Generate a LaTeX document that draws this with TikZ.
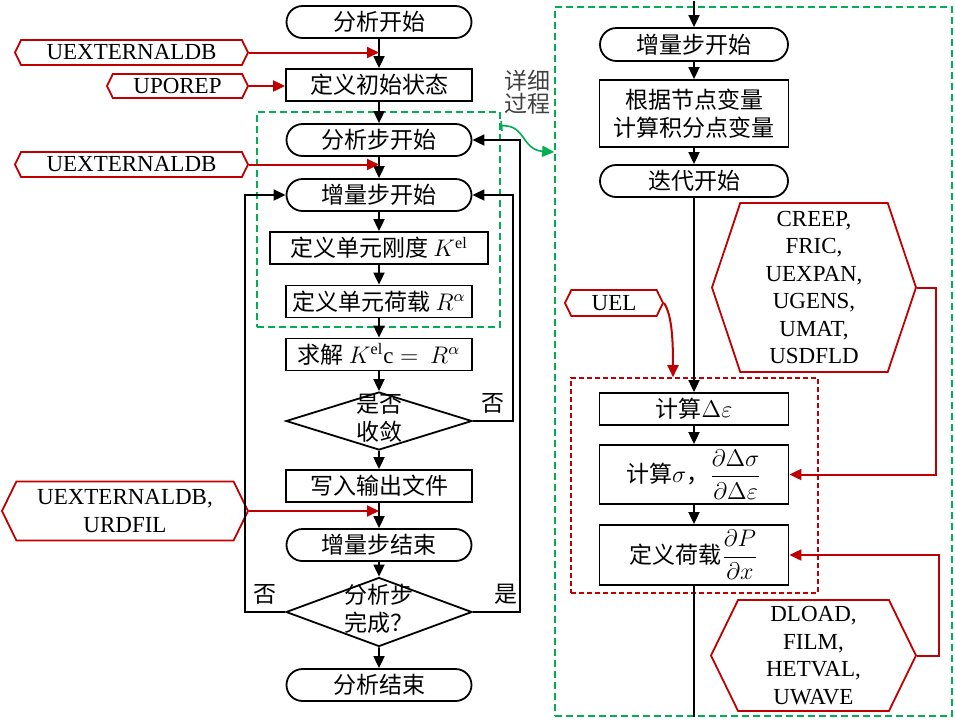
\documentclass[tikz,border=0pt]{standalone}
\usepackage{amsmath}
\usepackage{fontspec}
\setmainfont{Liberation Serif}
\newfontfamily\cjk{Noto Sans CJK SC}
\usepackage{tikz}
\usetikzlibrary{shapes.geometric,shapes.misc,shapes.symbols,arrows.meta,positioning}
\definecolor{dred}{RGB}{192,0,0}
\definecolor{dgreen}{RGB}{0,176,80}
\newcommand{\diatext}[2]{\smash{\raisebox{-2.9pt}{\begin{tabular}{@{}c@{}}#1\\#2\end{tabular}}}}

\begin{document}
\begin{tikzpicture}[x=0.5pt,y=-0.5pt,
    every node/.style={font=\fontsize{11.5}{13.75}\selectfont,inner sep=1.5pt},
    zh/.style={font=\fontsize{11.5}{13.75}\selectfont\cjk},
    term/.style={zh,draw,line width=0.9pt,rounded rectangle,minimum width=95.5pt,minimum height=16pt},
    proc/.style={zh,draw,line width=0.9pt,rectangle,align=center,minimum width=93pt,minimum height=16pt},
    dec/.style={zh,draw,line width=0.9pt,diamond,inner sep=0pt,minimum width=93pt,minimum height=29pt},
    hex/.style={draw=dred,line width=0.9pt,signal,signal to=west and east,signal pointer angle=128,align=center,inner sep=0.5pt},
    gbox/.style={draw=dgreen,line width=0.8pt,dash pattern=on 3.5pt off 2pt,inner sep=0pt},
    rbox/.style={draw=dred,line width=0.8pt,dash pattern=on 2.5pt off 1.5pt,inner sep=0pt},
    arr/.style={-{Triangle[length=6pt,width=5.5pt]},line width=0.9pt},
    rarr/.style={arr,draw=dred,line width=1pt}]
  \useasboundingbox (0,0) rectangle (955,725);
  \node[gbox,minimum width=121.5pt,minimum height=107.5pt] (detail) at (378.5,219.5) {};
  \node[gbox,minimum width=198.5pt,minimum height=354.5pt] (zoom) at (753.5,361.5) {};
  \node[rbox,minimum width=123.5pt,minimum height=107.5pt] (core) at (694.5,485.5) {};

  \node[term] (start) at (379,22) {分析开始};
  \node[proc] (init) at (379,85) {定义初始状态};
  \node[term] (step) at (379,140) {分析步开始};
  \node[term] (inc) at (379,195) {增量步开始};
  \node[proc,minimum width=109pt] (kel) at (379,248) {定义单元刚度 $K^{\mathrm{el}}$};
  \node[proc] (rel) at (379,301.5) {定义单元荷载 $R^{\alpha}$};
  \node[proc] (solve) at (379,354.5) {求解 $K^{\mathrm{el}}\mathrm{c}=\ R^{\alpha}$};
  \node[dec] (conv) at (379,421) {\diatext{是否}{收敛}};
  \node[proc] (write) at (379,486) {写入输出文件};
  \node[term] (incend) at (379,545) {增量步结束};
  \node[dec,minimum height=34.5pt] (done) at (379,612) {\diatext{分析步}{完成？}};
  \node[term] (fin) at (379,685) {分析结束};

  \node[hex,minimum width=116.5pt,minimum height=12.5pt] (ext1) at (131.5,52.5) {UEXTERNALDB};
  \node[hex,minimum width=70.5pt,minimum height=12pt] (upo) at (177.5,86) {UPOREP};
  \node[hex,minimum width=116.5pt,minimum height=12.5pt] (ext2) at (131.5,164.5) {UEXTERNALDB};
  \node[hex,minimum width=123pt,minimum height=29.5pt] (ext3) at (125,511) {UEXTERNALDB,\\URDFIL};

  \node[zh,text=black!75,align=center] (note) at (527,92) {详细\\[-2.25pt]过程};

  \coordinate (rtop) at (694,1);
  \node[term,minimum width=97pt,minimum height=16.5pt] (rinc) at (694,44.5) {增量步开始};
  \node[proc,minimum width=94.5pt,minimum height=33.5pt] (map) at (694,113.5) {根据节点变量\\[0.25pt]计算积分点变量};
  \node[term,minimum width=97pt] (iter) at (694,181) {迭代开始};
  \node[proc,minimum width=94.5pt] (deps) at (694,409) {计算$\Delta\varepsilon$};
  \node[proc,minimum width=94.5pt,minimum height=29.5pt] (dsig) at (694,474.5) {计算$\sigma$，$\dfrac{\partial\Delta\sigma}{\partial\Delta\varepsilon}$};
  \node[proc,minimum width=94.5pt,minimum height=30pt] (dload) at (694,555) {定义荷载$\dfrac{\partial P}{\partial x}$};

  \node[hex,minimum width=49pt,minimum height=13pt] (uel) at (614,303) {UEL};
  \node[hex,signal pointer angle=143,minimum width=102pt,minimum height=84.5pt] (creep) at (814,287.5) {CREEP,\\FRIC,\\UEXPAN,\\UGENS,\\UMAT,\\USDFLD};
  \node[hex,minimum width=102.5pt,minimum height=55.5pt] (dl) at (813.5,655.5) {DLOAD,\\FILM,\\HETVAL,\\UWAVE};

  \foreach \a/\b in {start/init,init/step,step/inc,inc/kel,kel/rel,rel/solve,solve/conv,conv/write,write/incend,incend/done,done/fin,rtop/rinc,rinc/map,map/iter,iter/deps,deps/dsig,dsig/dload}
    \draw[arr] (\a) -- (\b);
  \draw[line width=0.9pt] (dload) -- (dload |- zoom.south);

  \draw[arr] (conv.east) -- ++(40,0) node[zh,midway,above=2pt] {否} |- (inc.east);
  \draw[arr] (done.east) -- ++(47,0) node[zh,pos=0.7,above=2pt] {是} |- (step.east);
  \draw[arr] (done.west) -- ++(-40,0) node[zh,midway,above=2pt] {否} |- (inc.west);

  \draw[rarr] (ext1.east) -- (ext1 -| start);
  \draw[rarr] (upo.east) -- (upo -| init.west);
  \draw[rarr] (ext2.east) -- (ext2 -| start);
  \draw[rarr] (ext3.east) -- (ext3 -| start);
  \draw[rarr] (uel.east) .. controls (672,315) and (673,340) .. (673,0 |- core.north);
  \draw[rarr] (creep.east) -- ++(19,0) |- (dsig.east);
  \draw[rarr] (dl.east) -- ++(22,0) |- (dload.east);

  \draw[dgreen,line width=0.8pt,{Bar[width=5pt]}-{Triangle[length=6pt,width=5.5pt]}] (detail.east |- 0,126) .. controls (525,124) and (522,150) .. (zoom.west |- 0,152);
\end{tikzpicture}
\end{document}
